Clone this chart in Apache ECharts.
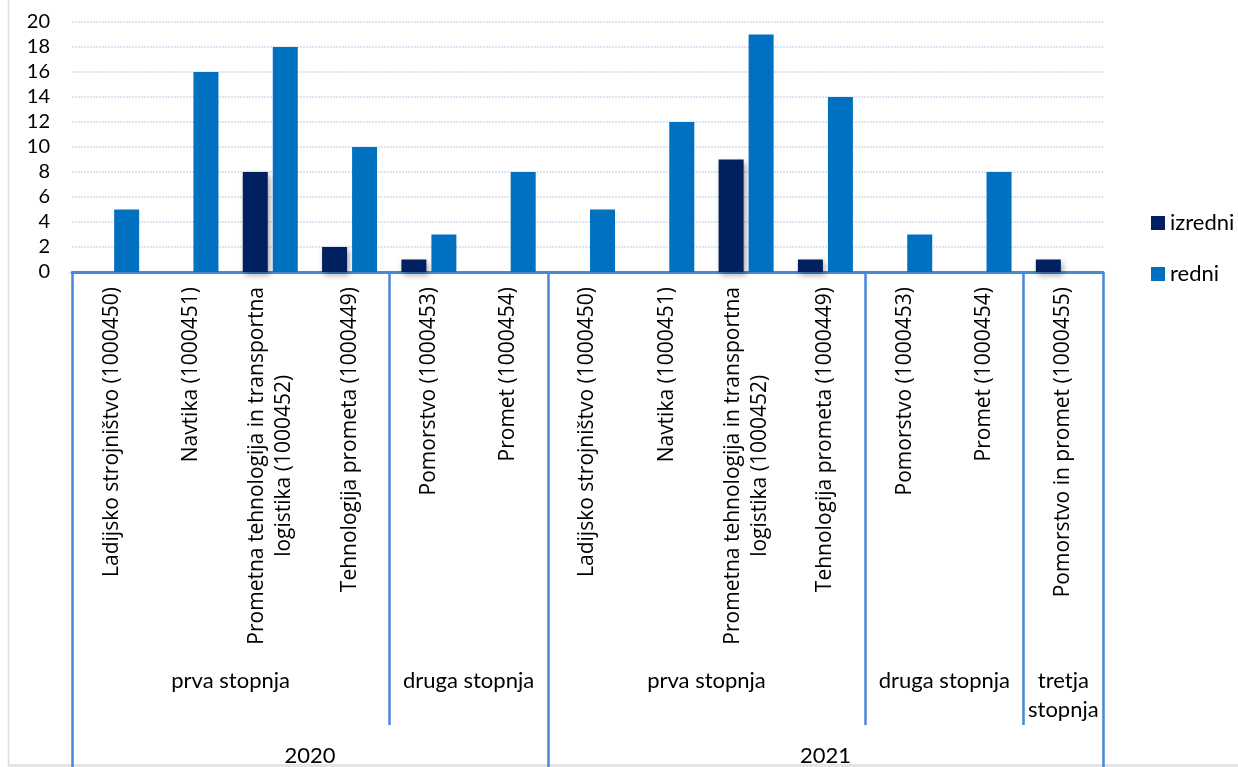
<!DOCTYPE html>
<html>
<head>
<meta charset="utf-8">
<script src="https://cdn.jsdelivr.net/npm/echarts@6/dist/echarts.min.js"></script>
<style>
html,body{margin:0;padding:0;background:#fff;}
#c{width:1238px;height:767px;}
</style>
</head>
<body>
<div id="c"></div>
<script>
const programs = [
  'Ladijsko strojništvo (1000450)',
  'Navtika (1000451)',
  'Prometna tehnologija in transportna\nlogistika (1000452)',
  'Tehnologija prometa (1000449)',
  'Pomorstvo (1000453)',
  'Promet (1000454)',
  'Ladijsko strojništvo (1000450)',
  'Navtika (1000451)',
  'Prometna tehnologija in transportna\nlogistika (1000452)',
  'Tehnologija prometa (1000449)',
  'Pomorstvo (1000453)',
  'Promet (1000454)',
  'Pomorstvo in promet (1000455)'
];
const izredni = [null, null, 8, 2, 1, null, null, null, 9, 1, null, null, 1];
const redni   = [5, 16, 18, 10, 3, 8, 5, 12, 19, 14, 3, 8, null];
const levelLabels = ['prva stopnja', 'druga stopnja', 'prva stopnja', 'druga stopnja', 'tretja\nstopnja'];
const levelSpans  = [4, 2, 4, 2, 1];
const years      = ['2020', '2021'];
const yearSpans  = [6, 7];
const yTicks = [0, 2, 4, 6, 8, 10, 12, 14, 16, 18, 20];

function centersAndBounds(spans) {
  const centers = [], bounds = [];
  let acc = 0;
  spans.forEach(s => { centers.push(acc + s / 2); acc += s; bounds.push(acc); });
  return { centers, bounds };
}
const lv = centersAndBounds(levelSpans);
const yr = centersAndBounds(yearSpans);
const yearBounds = [0].concat(yr.bounds);
const levelOnlyBounds = lv.bounds.filter(b => yearBounds.indexOf(b) < 0);

const blue = '#4a88d6';
const chart = echarts.init(document.getElementById('c'));
chart.setOption({
  animation: false,
  textStyle: { fontFamily: 'Lato' },
  graphic: [
    { type: 'line', shape: { x1: 8.5, y1: 0, x2: 8.5, y2: 767 }, style: { stroke: '#d9dce1', lineWidth: 1.5 } },
    { type: 'rect', shape: { x: 8, y: 764, width: 1230, height: 3 }, style: { fill: '#e1e4e9' } }
  ],
  legend: {
    orient: 'vertical', left: 1151, top: 212,
    icon: 'rect', itemWidth: 14, itemHeight: 14, itemGap: 29,
    padding: 0,
    textStyle: { fontFamily: 'Lato', fontSize: 22, color: '#000' },
    data: ['izredni', 'redni']
  },
  grid: { left: 72, right: 135, top: 22, bottom: 492, containLabel: false },
  yAxis: {
    type: 'value', min: 0, max: 20, interval: 2,
    axisLine: { show: false }, axisTick: { show: false },
    axisLabel: { fontFamily: 'Lato', fontSize: 20, color: '#000', margin: 22,
      formatter: v => (yTicks.indexOf(v) >= 0 ? String(v) : '') },
    splitLine: { lineStyle: { color: '#d3dbef', type: [2, 1], width: 1.5 } }
  },
  xAxis: [
    {
      type: 'category', data: programs, position: 'bottom',
      axisLine: { lineStyle: { color: blue, width: 3 } },
      axisTick: { show: false },
      axisLabel: {
        interval: 0, rotate: 90, margin: 15,
        fontFamily: 'Open Sans', fontSize: 21, color: '#000', lineHeight: 27,
        formatter: function (v) {
          const p = v.split('\n');
          if (p.length > 1) return '{a|' + p[0] + '}\n{c|' + p[1] + '}';
          return v;
        },
        rich: {
          a: { fontFamily: 'Open Sans', fontSize: 21, color: '#000', lineHeight: 27 },
          c: { fontFamily: 'Open Sans', fontSize: 21, color: '#000', lineHeight: 27, align: 'center' }
        }
      }
    },
    {
      type: 'value', min: 0, max: programs.length, position: 'bottom',
      axisLine: { show: false },
      splitLine: { show: false },
      axisTick: { show: true, customValues: levelOnlyBounds, length: 453,
        lineStyle: { color: blue, width: 2.5 } },
      axisLabel: {
        customValues: lv.centers, margin: 394,
        fontFamily: 'Lato', fontSize: 22, color: '#000', lineHeight: 29,
        formatter: function (v) { const i = lv.centers.indexOf(v); return i >= 0 ? levelLabels[i] : ''; }
      }
    },
    {
      type: 'value', min: 0, max: programs.length, position: 'bottom',
      axisLine: { show: false },
      splitLine: { show: false },
      axisTick: { show: true, customValues: yearBounds, length: 500,
        lineStyle: { color: blue, width: 2.5 } },
      axisLabel: {
        customValues: yr.centers, margin: 473,
        fontFamily: 'Lato', fontSize: 22, color: '#000',
        formatter: function (v) { const i = yr.centers.indexOf(v); return i >= 0 ? years[i] : ''; }
      }
    }
  ],
  series: [
    {
      name: 'izredni', type: 'bar', data: izredni, xAxisIndex: 0,
      barWidth: 25, barGap: '20%',
      itemStyle: { color: '#002060', shadowColor: 'rgba(0,0,0,0.35)', shadowBlur: 6, shadowOffsetX: 2, shadowOffsetY: 3 }
    },
    {
      name: 'redni', type: 'bar', data: redni, xAxisIndex: 0,
      barWidth: 25, barGap: '20%',
      itemStyle: { color: '#0070C0' }
    }
  ]
});
</script>
</body>
</html>
